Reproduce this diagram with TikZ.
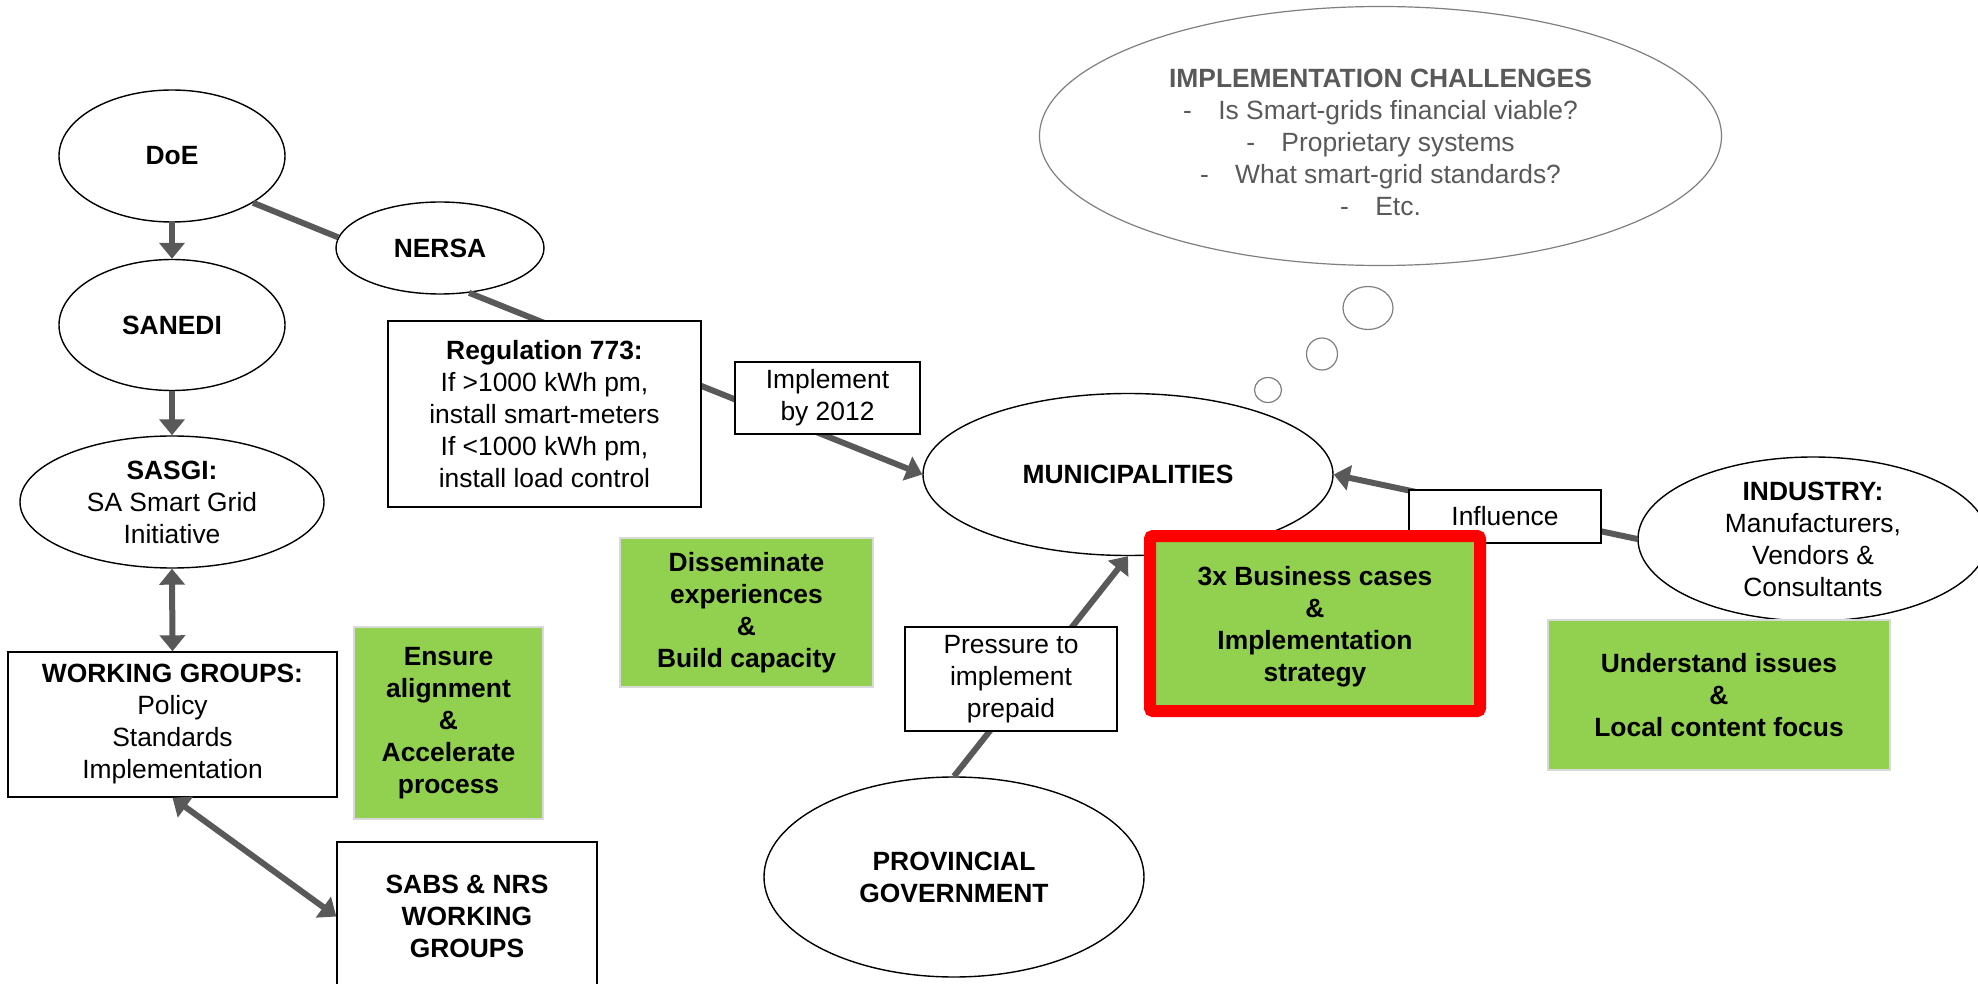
\documentclass[tikz,border=0pt]{standalone}
\usepackage{fontspec}
\setmainfont{Liberation Sans}
\usetikzlibrary{positioning,shapes.geometric,arrows.meta}
\definecolor{lnkgray}{HTML}{595959}
\definecolor{leaf}{HTML}{92D050}
\definecolor{cloudgray}{HTML}{7F7F7F}
\definecolor{thought}{HTML}{595959}
\newcommand{\dashitem}{-\hspace{1em}}

\begin{document}
\begin{tikzpicture}[x=0.5pt,y=-0.5pt,>={Triangle[length=8pt,width=12.5pt]},
     every node/.style={font=\fontsize{13.2pt}{16pt}\selectfont,align=center,inner sep=1pt},
     oval/.style={ellipse,draw,fill=white,line width=0.7pt,inner sep=0pt},
     rbox/.style={rectangle,draw,fill=white,line width=0.7pt},
     gbox/.style={rectangle,draw=black!15,fill=leaf,line width=0.7pt,font=\fontsize{13.2pt}{16pt}\selectfont\bfseries},
     lnk/.style={draw=lnkgray,line width=3pt},
     puff/.style={ellipse,draw=cloudgray,line width=0.6pt,fill=white,inner sep=0pt}]
     \useasboundingbox (0,0) rectangle (1978,984);

     \node[oval,minimum width=113pt,minimum height=66pt] (doe) at (172,156) {\textbf{DoE}};
     \node[oval,minimum width=113pt,minimum height=65.5pt] (sanedi) at (172,325) {\textbf{SANEDI}};
     \node[oval,minimum width=152pt,minimum height=66pt] (sasgi) at (172,502) {\textbf{SASGI:}\\SA Smart Grid\\Initiative};
     \node[oval,minimum width=104pt,minimum height=46pt] (nersa) at (440,248) {\textbf{NERSA}};
     \node[oval,minimum width=205pt,minimum height=81pt] (muni) at (1128,474.5) {\textbf{MUNICIPALITIES}};
     \node[oval,inner ysep=-4pt,minimum width=175pt,minimum height=82pt] (industry) at (1813,539) {\textbf{INDUSTRY:}\\Manufacturers,\\Vendors \&\\Consultants};
     \node[oval,minimum width=190pt,minimum height=100pt] (prov) at (954,877) {\textbf{PROVINCIAL}\\\textbf{GOVERNMENT}};

     \node[rbox,minimum width=164.5pt,minimum height=72.5pt] (wg) at (172.5,724.5) {\textbf{WORKING GROUPS:}\\Policy\\Standards\\Implementation};
     \node[rbox,minimum width=130pt,minimum height=74.5pt] (sabs) at (467,916.5) {\textbf{SABS \& NRS}\\\textbf{WORKING}\\\textbf{GROUPS}};

     \node[puff,minimum width=341pt,minimum height=129.5pt] (challenges) at (1380.5,136) {};
     \node[text=thought] (challengetext) at ([yshift=-3pt]challenges.center) {\textbf{IMPLEMENTATION CHALLENGES}\\\dashitem Is Smart-grids financial viable?\\\dashitem Proprietary systems\\\dashitem What smart-grid standards?\\\dashitem Etc.};
     \node[puff,minimum width=25pt,minimum height=21.5pt] (puff1) at (1368,308) {};
     \node[puff,minimum width=15.5pt,minimum height=16pt] (puff2) at (1322,354) {};
     \node[puff,minimum width=13.5pt,minimum height=12.5pt] (puff3) at (1268,390) {};

     \draw[lnk,->] (doe) -- (sanedi);
     \draw[lnk,->] (sanedi) -- (sasgi);
     \draw[lnk,<->] (sasgi.south) -- (wg.north);
     \draw[lnk,<->] (wg.south) -- (sabs.west);
     \draw[lnk] (doe.-30) -- (nersa.174);
     \draw[lnk,->] (nersa.-57) -- (muni.west);
     \draw[lnk,->] (industry.west) -- (muni.east);
     \draw[lnk,->] (prov.north) -- (muni.south);

     \node[rbox,minimum width=156.5pt,minimum height=93pt] (reg) at (544.5,414) {\textbf{Regulation 773:}\\If >1000 kWh pm,\\install smart-meters\\If <1000 kWh pm,\\install load control};
     \node[rbox,minimum width=92.5pt,minimum height=36pt] (impl) at (827.5,398) {Implement\\by 2012};
     \node[rbox,minimum width=96pt,minimum height=26.5pt] (infl) at (1505,516.5) {Influence};
     \node[rbox,minimum width=106pt,minimum height=52pt] (press) at (1011,679) {Pressure to\\implement\\prepaid};

     \node[gbox,minimum width=94.5pt,minimum height=96pt] (ensure) at (448.5,723) {Ensure\\alignment\\\&\\Accelerate\\process};
     \node[gbox,minimum width=126.5pt,minimum height=74.5pt] (dissem) at (746.5,612.5) {Disseminate\\experiences\\\&\\Build capacity};
     \node[gbox,minimum width=171pt,minimum height=75pt] (issues) at (1719,695) {Understand issues\\\&\\Local content focus};
     \node[gbox,draw=red,line width=6pt,rounded corners=1.5pt,minimum width=165pt,minimum height=87.5pt] (cases) at (1315,623.5) {\rule{0pt}{13pt}3x Business cases\\\&\\Implementation\\strategy};
\end{tikzpicture}
\end{document}
